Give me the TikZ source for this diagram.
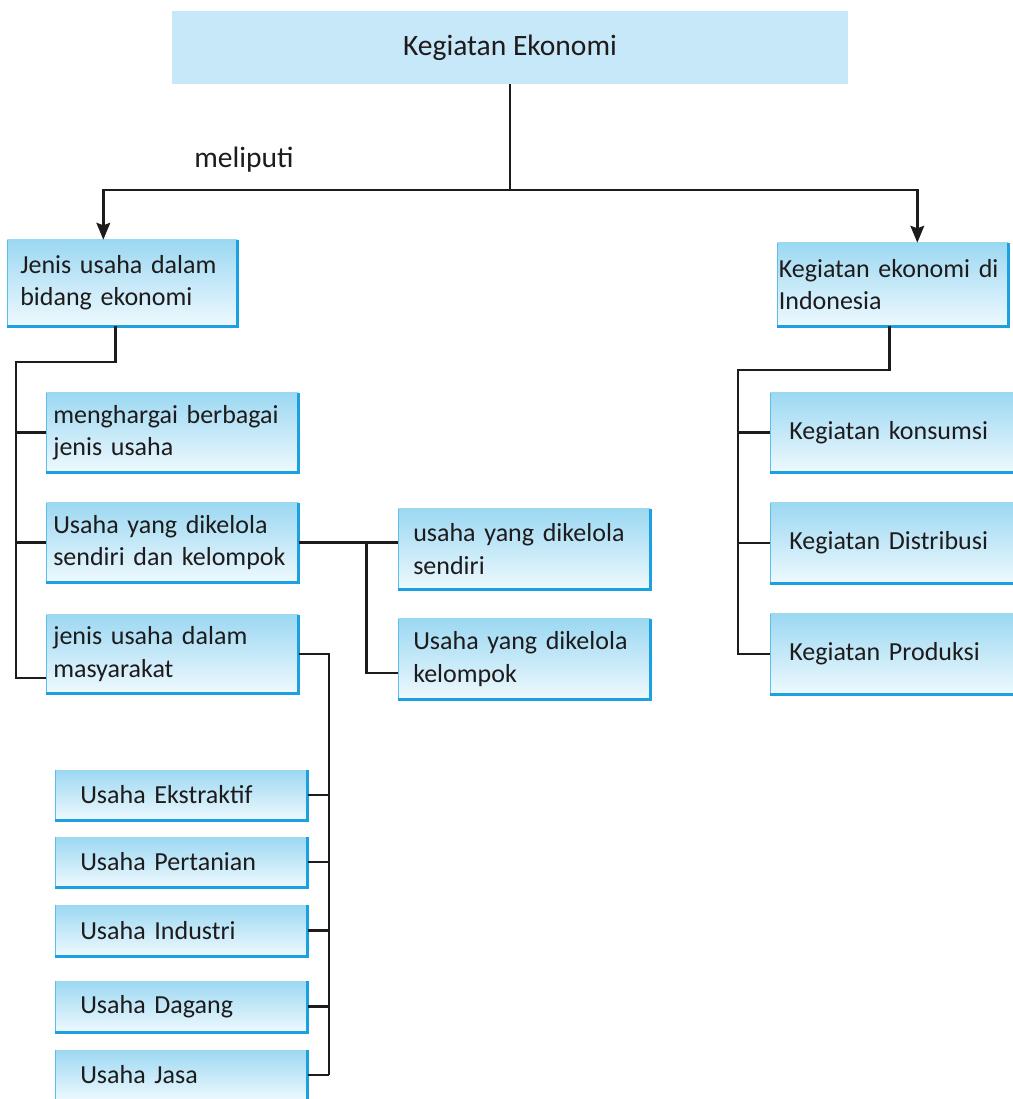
\documentclass[tikz,border=0pt]{standalone}
\usepackage{fontspec}
\setmainfont{Carlito}
\usetikzlibrary{arrows.meta}

\definecolor{birumuda}{RGB}{199,232,248}
\definecolor{biruatas}{RGB}{156,216,242}
\definecolor{birubawah}{RGB}{238,249,254}
\definecolor{tepibiru}{RGB}{27,161,226}
\definecolor{tinta}{RGB}{30,27,28}

\tikzset{
    garis/.style={draw=tinta, line width=2pt},
    panah/.style={garis, -{Stealth[length=0.42cm,width=0.34cm,inset=0.06cm]}},
    kotak/.style={top color=biruatas, bottom color=birubawah, text=tinta, align=left,
        inner ysep=0pt, anchor=west, font=\fontsize{18.5}{23}\selectfont},
    tepi/.style={draw=tepibiru, line width=1.8pt},
    tepitipis/.style={draw=tepibiru!70, line width=0.7pt},
}

\begin{document}
\begin{tikzpicture}[x=0.025cm, y=-0.025cm]
    \useasboundingbox (0,0) rectangle (1013,1099);

    % judul
    \node[fill=birumuda, text=tinta, minimum width=16.9cm, minimum height=1.825cm,
        font=\fontsize{21}{25}\selectfont] (utama) at (510,47.5) {Kegiatan Ekonomi};
    \node[text=tinta, font=\fontsize{21}{25}\selectfont] (meliputi) at (244,160) {meliputi};

    % dua cabang utama
    \node[kotak, minimum height=2.15cm, text width=5.1cm, inner xsep=0.325cm] (jenis) at (7,283)
        {Jenis usaha dalam\\ bidang ekonomi};
    \node[kotak, minimum height=2.075cm, text width=5.7cm, inner xsep=0.0375cm] (indo) at (777,284.5)
        {Kegiatan ekonomi di\\ Indonesia};

    % kolom kiri
    \node[kotak, minimum height=1.975cm, text width=5.95cm, inner xsep=0.175cm] (hargai) at (46,432.5)
        {menghargai berbagai\\ jenis usaha};
    \node[kotak, minimum height=1.975cm, text width=5.95cm, inner xsep=0.175cm] (sendkel) at (46,542.5)
        {Usaha yang dikelola\\ sendiri dan kelompok};
    \node[kotak, minimum height=1.95cm, text width=5.95cm, inner xsep=0.175cm] (masy) at (46,654)
        {jenis usaha dalam\\ masyarakat};

    % kolom tengah
    \node[kotak, minimum height=2cm, text width=5.55cm, inner xsep=0.375cm] (sendiri) at (398,549)
        {usaha yang dikelola\\ sendiri};
    \node[kotak, minimum height=2cm, text width=5.55cm, inner xsep=0.375cm] (kelompok) at (398,659)
        {Usaha yang dikelola\\ kelompok};

    % kolom kanan
    \node[kotak, minimum height=1.975cm, text width=5.3cm, inner xsep=0.475cm] (konsumsi) at (770,432.5)
        {Kegiatan konsumsi};
    \node[kotak, minimum height=2cm, text width=5.3cm, inner xsep=0.475cm] (distribusi) at (770,543)
        {Kegiatan Distribusi};
    \node[kotak, minimum height=2cm, text width=5.3cm, inner xsep=0.475cm] (produksi) at (770,654)
        {Kegiatan Produksi};

    % jenis usaha dalam masyarakat
    \node[kotak, minimum height=1.25cm, text width=5.05cm, inner xsep=0.625cm] (ekstraktif) at (55,795)
        {Usaha Ekstraktif};
    \node[kotak, minimum height=1.25cm, text width=5.05cm, inner xsep=0.625cm] (pertanian) at (55,862)
        {Usaha Pertanian};
    \node[kotak, minimum height=1.275cm, text width=5.05cm, inner xsep=0.625cm] (industri) at (55,930.5)
        {Usaha Industri};
    \node[kotak, minimum height=1.275cm, text width=5.05cm, inner xsep=0.625cm] (dagang) at (55,1006.5)
        {Usaha Dagang};
    \node[kotak, minimum height=1.25cm, text width=5.05cm, inner xsep=0.625cm] (jasa) at (55,1075)
        {Usaha Jasa};

    \foreach \n in {jenis,indo,hargai,sendkel,masy,sendiri,kelompok,konsumsi,distribusi,produksi,
                    ekstraktif,pertanian,industri,dagang,jasa} {
        \draw[tepitipis] (\n.north west) -- (\n.south west);
        \draw[tepi] (\n.south west) -- (\n.south east) -- (\n.north east);
    }

    % penghubung
    \draw[garis] (utama.south) -- (utama.south |- 0,190) coordinate (cabang);
    \draw[panah] (cabang) -| ([xshift=-0.475cm]jenis.north);
    \draw[panah] (cabang) -| ([xshift=0.6125cm]indo.north);

    \draw[garis] ([xshift=-0.175cm]jenis.south) |- (16,362) coordinate (batangkiri)
        |- ([yshift=-0.6cm]masy.west);
    \draw[garis] (batangkiri |- hargai.west) -- (hargai.west);
    \draw[garis] (batangkiri |- sendkel.west) -- (sendkel.west);

    \draw[garis] (sendkel.east) -- ++(68,0) coordinate (simpul) -- (sendkel.east -| sendiri.west);
    \draw[garis] (simpul) |- ([yshift=-0.35cm]kelompok.west);

    \coordinate (batangbawah) at (329,0);
    \draw[garis] (masy.east) -| (jasa.east -| batangbawah);
    \foreach \n in {ekstraktif,pertanian,industri,dagang,jasa}
        \draw[garis] (\n.east) -- (\n.east -| batangbawah);

    \draw[garis] ([xshift=-0.0875cm]indo.south) |- (738,370) coordinate (batangkanan) |- (produksi.west);
    \draw[garis] (batangkanan |- konsumsi.west) -- (konsumsi.west);
    \draw[garis] (batangkanan |- distribusi.west) -- (distribusi.west);
\end{tikzpicture}
\end{document}
